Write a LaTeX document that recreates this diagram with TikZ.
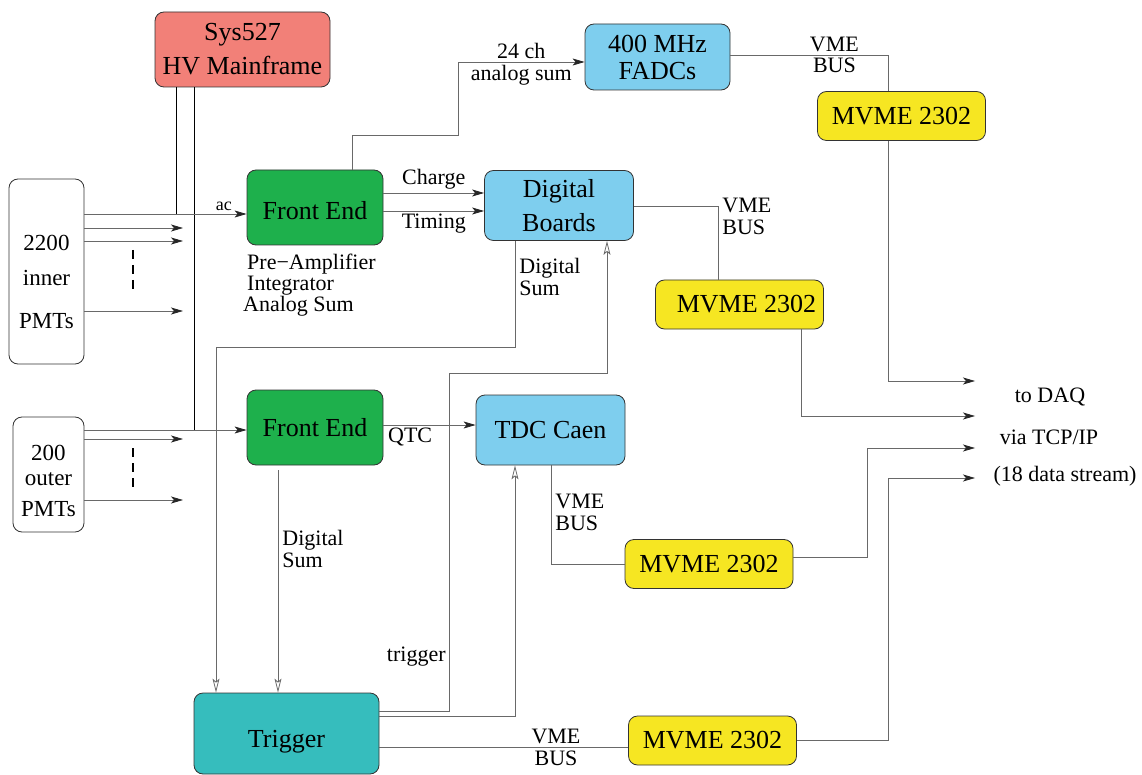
\documentclass[tikz,border=0pt]{standalone}
\usepackage{fontspec}
\setmainfont{Liberation Serif}
\usetikzlibrary{arrows.meta, positioning, calc}
\definecolor{hvcolor}{RGB}{242,128,120}
\definecolor{fecolor}{RGB}{30,176,76}
\definecolor{boardcolor}{RGB}{126,206,238}
\definecolor{cpucolor}{RGB}{246,230,34}
\definecolor{trigcolor}{RGB}{54,189,189}
\definecolor{wirecolor}{RGB}{105,105,105}

\begin{document}
\begin{tikzpicture}[
    x=1pt, y=-1pt,
    box/.style={rectangle, rounded corners=9pt, draw=black!80, line width=0.8pt, align=center, inner sep=0pt, font=\fontsize{26}{34}\selectfont},
    pmt/.style={box, fill=white},
    pmttext/.style={align=center, inner sep=0pt, font=\fontsize{23}{35}\selectfont},
    cpu/.style={box, fill=cpucolor, minimum width=168pt, minimum height=49pt},
    wire/.style={draw=wirecolor, line width=0.8pt},
    sig/.style={wire, -{Stealth[length=12pt, width=7pt, inset=3pt, color=black!85]}},
    hollow/.style={wire, -{Stealth[open, length=14pt, width=7pt, inset=3pt]}},
    lbl/.style={font=\fontsize{22}{22}\selectfont, inner sep=3pt},
    lbltwo/.style={font=\fontsize{22}{22}\selectfont, align=left, inner sep=4pt}
]
\useasboundingbox (0,0) rectangle (1142,775);

% Boxes
\node[box, fill=hvcolor, minimum width=175pt, minimum height=75pt] (hv) at (242.5,49.5) {Sys527\\HV Mainframe};
\node[box, fill=boardcolor, minimum width=145pt, minimum height=66pt, font=\fontsize{26}{27}\selectfont] (fadc) at (657.5,57) {400 MHz\\FADCs};
\node[cpu] (cpufadc) at (901.5,116) {MVME 2302};
\node[box, fill=fecolor, minimum width=136pt, minimum height=75pt] (fein) at (315,207.5) {\raisebox{-3pt}[\height][\depth]{Front End}};
\node[box, fill=boardcolor, minimum width=149pt, minimum height=70pt] (boards) at (559,205.5) {Digital\\Boards};
\node[cpu] (cpuboards) at (739.5,304.5) {\hspace*{14pt}MVME 2302};
\node[box, fill=fecolor, minimum width=136pt, minimum height=75pt] (feout) at (315,427.5) {Front End};
\node[box, fill=boardcolor, minimum width=149pt, minimum height=70pt] (tdc) at (550.5,430) {TDC Caen};
\node[cpu] (cputdc) at (709,564) {MVME 2302};
\node[box, fill=trigcolor, minimum width=185pt, minimum height=81pt] (trig) at (286.5,733.5) {\raisebox{-8pt}[\height][\depth]{Trigger}};
\node[cpu] (cputrig) at (712.5,740.5) {MVME 2302};

% PMTs
\node[pmt, minimum width=75pt, minimum height=185pt] (inner) at (46.5,271.5) {};
\node[pmttext] (innertxt) at (46.5,282) {2200\\inner\\[8pt]PMTs};
\node[pmt, minimum width=71pt, minimum height=115pt] (outer) at (48.5,474.5) {};
\node[pmttext, font=\fontsize{23}{25}\selectfont] (outertxt) at (48.5,481) {200\\outer\\[6pt]PMTs};
\node[lbl, align=left, anchor=north west, inner sep=0pt, font=\fontsize{22}{21}\selectfont] (feinfo) at (247,254) {Pre−Amplifier\\Integrator\\\hspace*{-4pt}Analog Sum};

% DAQ side
\coordinate (daqa) at (975,381);
\coordinate (daqb) at (975,416);
\coordinate (daqc) at (975,448);
\coordinate (daqd) at (975,478);
\node[lbl] (daqtxta) at (1050,397) {to DAQ};
\node[lbl] (daqtxtb) at (1049,437) {via TCP/IP};
\node[lbl] (daqtxtc) at (1065,476) {(18 data stream)};

% HV cables
\draw[line width=0.8pt] (hv.south -| 176,0) -- (176,214);
\draw[line width=0.8pt] (hv.south -| 194,0) -- (194,430);

% PMT signals
\draw[sig] (inner.east |- 0,214) -- node[lbl, above, pos=0.86, font=\fontsize{18}{18}\selectfont] {ac} (fein.west |- 0,214);
\foreach \y/\n in {228/a, 241/b, 311/c} {
  \coordinate (instub\n) at (183,\y);
  \draw[sig] (inner.east |- 0,\y) -- (instub\n);
}
\draw[dashed, dash pattern=on 9pt off 6pt, line width=2.4pt] (133,250) -- (133,294);
\draw[sig] (outer.east |- 0,430) -- (feout.west |- 0,430);
\foreach \y/\n in {439/a, 500/c} {
  \coordinate (outstub\n) at (183,\y);
  \draw[sig] (outer.east |- 0,\y) -- (outstub\n);
}
\draw[dashed, dash pattern=on 9pt off 6pt, line width=2.4pt] (133,448) -- (133,492);

% Front end outputs
\draw[sig] (fein.north -| 352,0) |- (458,135) -- (458,62) -- node[lbl, above] {24 ch} node[lbl, below] {analog sum} (fadc.west |- 0,62);
\draw[sig] (fein.east |- 0,193) -- node[lbl, above] {Charge} (boards.west |- 0,193);
\draw[sig] (fein.east |- 0,211) -- node[lbl, below] {Timing} (boards.west |- 0,211);
\draw[sig] (feout.east |- 0,425) -- node[lbl, below, pos=0.29] {QTC} (tdc.west |- 0,425);
\draw[hollow, shorten <=5pt] (feout.south -| 278,0) -- node[lbltwo, right, pos=0.37] {Digital\\Sum} (trig.north -| 278,0);
\draw[hollow] (boards.south -| 515,0) |- node[lbltwo, right, pos=0.17] {Digital\\Sum} (216,347) -- (trig.north -| 216,0);

% Trigger lines
\draw[hollow] (trig.east |- 0,711) -| node[lbl, left, pos=0.58] {trigger} (449,373) -| (boards.south -| 607,0);
\draw[hollow] (trig.east |- 0,716) -| (tdc.south -| 515,0);

% VME buses
\draw[wire] (fadc.east |- 0,55) -| node[lbl, above, pos=0.33] {VME} node[lbl, below, pos=0.33] {BUS} (cpufadc.north -| 888,0);
\draw[wire] (boards.east |- 0,206) -| node[lbltwo, right, pos=0.57] {VME\\BUS} (cpuboards.north -| 718,0);
\draw[wire] (tdc.south -| 551,0) |- node[lbltwo, right, pos=0.24] {VME\\BUS} (cputdc.west);
\draw[wire] (trig.east |- 0,747) -- node[lbl, above, pos=0.71] {VME} node[lbl, below=1pt, pos=0.71] {BUS} (cputrig.west |- 0,747);

% To DAQ
\draw[sig] (cpufadc.south -| 888,0) |- (daqa);
\draw[sig] (cpuboards.south -| 801,0) |- (daqb);
\draw[sig] (cputdc.east |- 0,557) -| (867,448) -- (daqc);
\draw[sig] (cputrig.east) -| (888,478) -- (daqd);

\end{tikzpicture}
\end{document}
